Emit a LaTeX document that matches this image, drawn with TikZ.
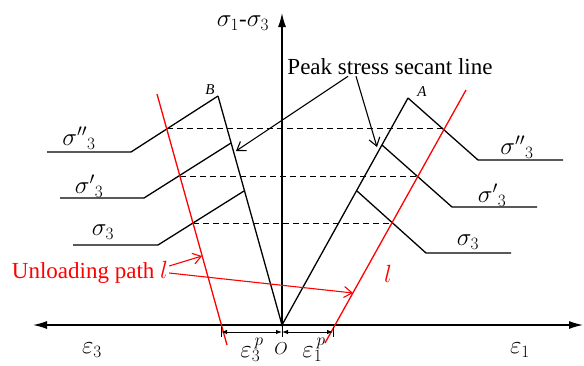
\documentclass[tikz,border=0pt]{standalone}
\usepackage{fontspec}
\setmainfont{Liberation Serif}
\usetikzlibrary{arrows.meta,calc}

\tikzset{
  lbl/.style={inner sep=1pt, font=\fontsize{23}{26}\selectfont},
  peaklbl/.style={inner sep=1pt, font=\fontsize{15}{17}\selectfont\itshape},
  curve/.style={line width=1.3pt},
  unload/.style={red, line width=1.3pt},
  guide/.style={line width=0.9pt, dash pattern=on 6pt off 4pt},
  barb/.style={-{Straight Barb[length=8pt,width=11pt]}, line width=1.1pt},
  dim/.style={{Latex[length=6pt,width=4.5pt]}-{Latex[length=6pt,width=4.5pt]}, line width=1pt},
}

\begin{document}
\begin{tikzpicture}[x=1pt,y=-1pt]
    \useasboundingbox (0,0) rectangle (584,365);

    % Main points
    \coordinate (O) at (282,325);
    \coordinate (A) at (408,98);
    \coordinate (B) at (218,96);

    % Axes
    \draw[line width=1.3pt, {Latex[length=14pt,width=8pt]}-{Latex[length=14pt,width=8pt]}] (33,325) -- (583,325);
    \draw[line width=1.3pt, -{Latex[length=14pt,width=8pt]}] (O) -- (282,13);
    \node[lbl] (ylab) at (243,23) {$\sigma_1$-$\sigma_3$};
    \node[lbl] (e3) at (92,350) {$\varepsilon_3$};
    \node[lbl] (e1) at (520,350) {$\varepsilon_1$};
    \node[lbl, font=\fontsize{17}{19}\selectfont] (olab) at (281,349) {$O$};

    % Peak stress secant lines
    \draw[curve] (B) -- (O) -- (A);
    \node[peaklbl] (blab) at (210,90) {B};
    \node[peaklbl] (alab) at (422,92) {A};

    % Lateral strain curves (left)
    \draw[curve] (47,152) -- (131,152) -- (B);
    \draw[curve] (60,198) -- (144,198) -- (231,143);
    \draw[curve] (73,245) -- (158,245) -- (244,191);
    \node[lbl] (sl1) at (79,138) {$\sigma''{}_3$};
    \node[lbl] (sl2) at (89,186) {$\sigma'{}_3$};
    \node[lbl] (sl3) at (103,232) {$\sigma_3$};

    % Axial strain curves (right)
    \draw[curve] (A) -- (478,160) -- (563,160);
    \draw[curve] (382,145) -- (452,207) -- (537,207);
    \draw[curve] (357,191) -- (426,253) -- (511,253);
    \node[lbl] (sr1) at (517,147) {$\sigma''{}_3$};
    \node[lbl] (sr2) at (492,195) {$\sigma'{}_3$};
    \node[lbl] (sr3) at (468,242) {$\sigma_3$};

    % Dashed levels between unloading paths
    \draw[guide] (166.5,128) -- (444.8,128);
    \draw[guide] (179.9,176) -- (418.1,176);
    \draw[guide] (193.0,223) -- (391.9,223);

    % Unloading paths l
    \coordinate (ul1) at (157,94);
    \coordinate (ul2) at (227,345);
    \coordinate (ur1) at (466,90);
    \coordinate (ur2) at (325,343);
    \draw[unload] (ul1) -- (ul2);
    \draw[unload] (ur1) -- (ur2);
    \node[lbl, red] (rl) at (388,274) {$l$};
    \node[lbl, red] (unload) at (90,272) {Unloading path $l$};
    \coordinate (hitl) at (202,256);
    \coordinate (hitr) at (353,293);
    \draw[barb, red] ([yshift=6pt]unload.east) -- (hitl);
    \draw[barb, red] ([yshift=-1pt]unload.east) -- (hitr);

    % Secant line label
    \node[lbl] (peak) at (390,67) {Peak stress secant line};
    \coordinate (hitb) at (236,151);
    \coordinate (hita) at (377,147);
    \draw[barb] ([xshift=-42pt]peak.south) -- (hitb);
    \draw[barb] ([xshift=-34pt]peak.south) -- (hita);

    % Plastic strains
    \draw[line width=1pt] (221,327) -- (221,337);
    \draw[line width=1pt] (282,325) -- (282,337);
    \draw[line width=1pt] (333,327) -- (333,337);
    \draw[dim] (221,332) -- (282,332);
    \draw[dim] (282,332) -- (333,332);
    \node[lbl] (ep3) at (252,350) {$\varepsilon_3^{\,p}$};
    \node[lbl] (ep1) at (314,350) {$\varepsilon_1^{\,p}$};

\end{tikzpicture}
\end{document}
